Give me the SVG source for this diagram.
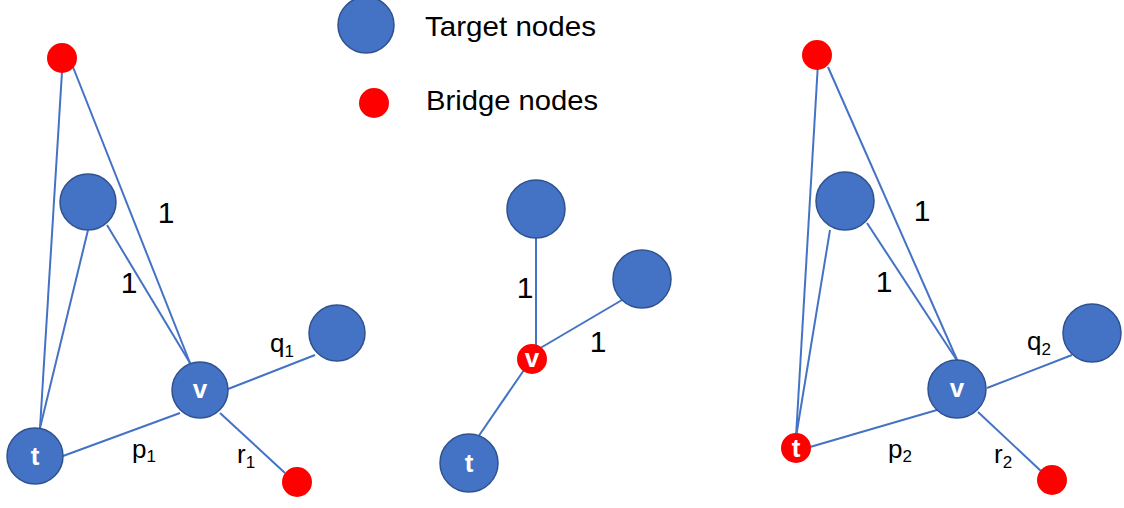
<svg xmlns="http://www.w3.org/2000/svg" width="1124" height="508" viewBox="0 0 1124 508">
  <style>
    .edge { stroke: #4472C4; stroke-width: 2; fill: none; }
    .target { fill: #4472C4; stroke: #2F528F; stroke-width: 1.5; }
    .bridge { fill: #FF0000; stroke: none; }
    .lbl { font-family: "Liberation Sans", Arial, sans-serif; font-size: 26px; fill: #000; }
    .one { font-family: "Liberation Sans", Arial, sans-serif; font-size: 30px; fill: #000; text-anchor: middle; }
    .sub { font-size: 17px; }
    .in { font-family: "Liberation Sans", Arial, sans-serif; font-size: 26px; font-weight: bold; fill: #fff; text-anchor: middle; }
    .legend { font-family: "Liberation Sans", Arial, sans-serif; font-size: 28.5px; fill: #000; }
  </style>

  <rect width="1124" height="508" fill="#fff"/>

  <!-- legend -->
  <g id="legend">
    <circle class="target" cx="366" cy="25" r="28"/>
    <text class="legend" x="425" y="36" textLength="171" lengthAdjust="spacingAndGlyphs">Target nodes</text>
    <circle class="bridge" cx="374" cy="103" r="15"/>
    <text class="legend" x="426" y="110" textLength="172" lengthAdjust="spacingAndGlyphs">Bridge nodes</text>
  </g>

  <!-- connectors -->
  <g id="connectors">
    <!-- left graph -->
    <line class="edge" x1="62" y1="72" x2="40" y2="428"/>
    <line class="edge" x1="73" y1="67" x2="190" y2="363"/>
    <line class="edge" x1="107" y1="225" x2="190" y2="363"/>
    <line class="edge" x1="88" y1="230" x2="40" y2="428"/>
    <line class="edge" x1="63" y1="456" x2="180" y2="413"/>
    <line class="edge" x1="228" y1="389" x2="315" y2="355"/>
    <line class="edge" x1="220" y1="413" x2="285" y2="473"/>
    <!-- middle graph -->
    <line class="edge" x1="536" y1="238" x2="536" y2="350"/>
    <line class="edge" x1="622" y1="300" x2="537" y2="350"/>
    <line class="edge" x1="524" y1="370" x2="478" y2="437"/>
    <!-- right graph -->
    <line class="edge" x1="818" y1="63" x2="796" y2="437"/>
    <line class="edge" x1="828" y1="67" x2="958" y2="362"/>
    <line class="edge" x1="867" y1="223" x2="958" y2="362"/>
    <line class="edge" x1="830" y1="230" x2="796" y2="437"/>
    <line class="edge" x1="810" y1="447" x2="937" y2="410"/>
    <line class="edge" x1="987" y1="388" x2="1072" y2="355"/>
    <line class="edge" x1="978" y1="412" x2="1042" y2="472"/>
  </g>

  <!-- edge labels -->
  <g id="edge-labels">
    <text class="one" x="166" y="223">1</text>
    <text class="one" x="129" y="293">1</text>
    <text class="lbl" x="270" y="352">q<tspan class="sub" dy="5">1</tspan></text>
    <text class="lbl" x="132" y="458">p<tspan class="sub" dy="4">1</tspan></text>
    <text class="lbl" x="237" y="463">r<tspan class="sub" dy="5">1</tspan></text>

    <text class="one" x="525" y="298">1</text>
    <text class="one" x="598" y="352">1</text>

    <text class="one" x="922" y="221">1</text>
    <text class="one" x="884" y="292">1</text>
    <text class="lbl" x="1027" y="350">q<tspan class="sub" dy="5">2</tspan></text>
    <text class="lbl" x="888" y="458">p<tspan class="sub" dy="4">2</tspan></text>
    <text class="lbl" x="994" y="463">r<tspan class="sub" dy="5">2</tspan></text>
  </g>

  <!-- left graph nodes -->
  <g id="L-bridge-top"><circle class="bridge" cx="62" cy="58" r="15"/></g>
  <g id="L-target-upper"><circle class="target" cx="88" cy="202" r="28"/></g>
  <g id="L-v"><circle class="target" cx="200" cy="390" r="28"/><text class="in" x="200" y="398">v</text></g>
  <g id="L-t"><circle class="target" cx="35" cy="456" r="28"/><text class="in" x="35" y="465">t</text></g>
  <g id="L-target-q"><circle class="target" cx="337" cy="333" r="28"/></g>
  <g id="L-bridge-r"><circle class="bridge" cx="297" cy="482" r="15"/></g>

  <!-- middle graph nodes -->
  <g id="M-target-top"><circle class="target" cx="536" cy="209" r="29"/></g>
  <g id="M-target-right"><circle class="target" cx="642" cy="279" r="29"/></g>
  <g id="M-v"><circle class="bridge" cx="532" cy="359" r="15"/><text class="in" x="532" y="367">v</text></g>
  <g id="M-t"><circle class="target" cx="469" cy="463" r="29"/><text class="in" x="469" y="472">t</text></g>

  <!-- right graph nodes -->
  <g id="R-bridge-top"><circle class="bridge" cx="817" cy="55" r="15"/></g>
  <g id="R-target-upper"><circle class="target" cx="845" cy="201" r="29"/></g>
  <g id="R-v"><circle class="target" cx="957" cy="389" r="29"/><text class="in" x="957" y="397">v</text></g>
  <g id="R-target-q"><circle class="target" cx="1092" cy="333" r="29"/></g>
  <g id="R-bridge-r"><circle class="bridge" cx="1052" cy="480" r="15"/></g>
  <g id="R-t"><circle class="bridge" cx="796" cy="448" r="15"/><text class="in" x="796" y="457">t</text></g>
</svg>
